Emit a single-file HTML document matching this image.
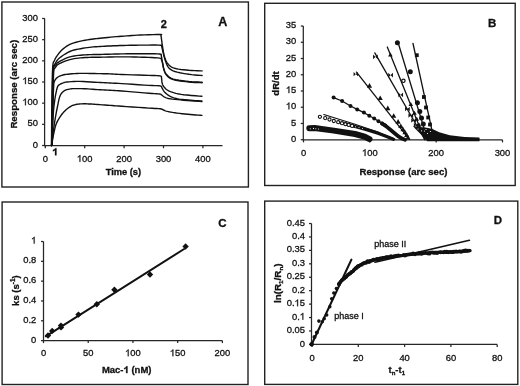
<!DOCTYPE html>
<html><head><meta charset="utf-8"><style>
html,body{margin:0;padding:0;background:#fff;}
svg{display:block;will-change:transform;font-family:"Liberation Sans",sans-serif;}
text{fill:#111;stroke:#111;stroke-width:0.3px;}
</style></head><body>
<svg width="520" height="386" viewBox="0 0 520 386" font-family="'Liberation Sans', sans-serif">
<rect width="520" height="386" fill="#fff"/>
<rect x="1.9" y="2" width="246.5" height="185" fill="none" stroke="#222" stroke-width="1.4"/>
<polyline points="44.6,18.3 44.6,145.7 222.5,145.7" fill="none" stroke="#262626" stroke-width="1.25"/>
<line x1="42.1" y1="145.5" x2="44.6" y2="145.5" stroke="#262626" stroke-width="1.25"/>
<line x1="42.1" y1="124.34" x2="44.6" y2="124.34" stroke="#262626" stroke-width="1.25"/>
<line x1="42.1" y1="103.17" x2="44.6" y2="103.17" stroke="#262626" stroke-width="1.25"/>
<line x1="42.1" y1="82" x2="44.6" y2="82" stroke="#262626" stroke-width="1.25"/>
<line x1="42.1" y1="60.84" x2="44.6" y2="60.84" stroke="#262626" stroke-width="1.25"/>
<line x1="42.1" y1="39.67" x2="44.6" y2="39.67" stroke="#262626" stroke-width="1.25"/>
<line x1="42.1" y1="18.51" x2="44.6" y2="18.51" stroke="#262626" stroke-width="1.25"/>
<line x1="45.3" y1="145.7" x2="45.3" y2="148.2" stroke="#262626" stroke-width="1.25"/>
<line x1="84.7" y1="145.7" x2="84.7" y2="148.2" stroke="#262626" stroke-width="1.25"/>
<line x1="124.1" y1="145.7" x2="124.1" y2="148.2" stroke="#262626" stroke-width="1.25"/>
<line x1="163.5" y1="145.7" x2="163.5" y2="148.2" stroke="#262626" stroke-width="1.25"/>
<line x1="202.9" y1="145.7" x2="202.9" y2="148.2" stroke="#262626" stroke-width="1.25"/>
<text x="38" y="147.6" font-size="9.4" text-anchor="end" >0</text>
<text x="38" y="126.44" font-size="9.4" text-anchor="end" >50</text>
<polygon points="25.81,105.27 25.81,98.54 25.26,98.54 24.85,99.07 24.1,99.72 23.26,100.15 23.26,100.95 23.91,100.62 24.57,100.15 25,99.82 25,105.27" fill="#111" stroke="#111" stroke-width="0.3" stroke-linejoin="round"/>
<text x="27.54" y="105.27" font-size="9.4" text-anchor="start" >00</text>
<polygon points="25.81,84.1 25.81,77.37 25.26,77.37 24.85,77.9 24.1,78.56 23.26,78.98 23.26,79.78 23.91,79.45 24.57,78.98 25,78.65 25,84.1" fill="#111" stroke="#111" stroke-width="0.3" stroke-linejoin="round"/>
<text x="27.54" y="84.1" font-size="9.4" text-anchor="start" >50</text>
<text x="38" y="62.94" font-size="9.4" text-anchor="end" >200</text>
<text x="38" y="41.77" font-size="9.4" text-anchor="end" >250</text>
<text x="38" y="20.61" font-size="9.4" text-anchor="end" >300</text>
<text x="45.3" y="161.8" font-size="9.4" text-anchor="middle" >0</text>
<polygon points="80.35,161.8 80.35,155.07 79.8,155.07 79.4,155.6 78.64,156.25 77.8,156.68 77.8,157.48 78.46,157.15 79.11,156.68 79.54,156.35 79.54,161.8" fill="#111" stroke="#111" stroke-width="0.3" stroke-linejoin="round"/>
<text x="82.09" y="161.8" font-size="9.4" text-anchor="start" >00</text>
<text x="124.1" y="161.8" font-size="9.4" text-anchor="middle" >200</text>
<text x="163.5" y="161.8" font-size="9.4" text-anchor="middle" >300</text>
<text x="202.9" y="161.8" font-size="9.4" text-anchor="middle" >400</text>
<text x="123.4" y="175.4" font-size="9.3" text-anchor="middle" font-weight="bold" >Time (s)</text>
<text x="0" y="0" font-size="9.7" text-anchor="middle" font-weight="bold" transform="translate(16.7 84.2) rotate(-90)">Response (arc sec)</text>
<text x="218.2" y="25.7" font-size="12.6" text-anchor="start" font-weight="bold" >A</text>
<text x="160.7" y="28" font-size="11" text-anchor="start" font-weight="bold" >2</text>
<polygon points="56.45,155.3 56.45,148.14 55.3,148.14 54.8,148.9 53.9,149.55 52.95,150 52.95,151.25 53.8,150.9 55,150.2 55,155.3" fill="#111" stroke="#111" stroke-width="0.3" stroke-linejoin="round"/>
<polyline points="51.5,145.5 51.55,139.11 51.61,129.98 51.69,119.48 51.79,109.03 51.9,100 52.02,92.18 52.14,84.63 52.29,77.69 52.47,71.7 52.7,67 52.99,63.97 53.33,62.38 53.7,61.66 54.1,61.23 54.5,60.5 54.86,59.55 55.2,58.76 55.57,58.04 56.05,57.25 56.7,56.3 57.54,55.13 58.52,53.81 59.62,52.43 60.82,51.07 62.1,49.8 63.44,48.62 64.87,47.46 66.39,46.36 68.02,45.33 69.8,44.4 71.76,43.58 73.89,42.86 76.12,42.22 78.38,41.64 80.6,41.1 82.81,40.61 85.07,40.19 87.31,39.82 89.47,39.49 91.5,39.2 93.27,38.96 94.83,38.79 96.36,38.65 98.02,38.5 100,38.3 102.38,38.05 105.04,37.76 107.87,37.46 110.73,37.16 113.5,36.9 116.18,36.67 118.86,36.47 121.54,36.27 124.22,36.09 126.9,35.9 129.5,35.71 132,35.51 134.56,35.33 137.31,35.15 140.4,35 144.21,34.85 148.66,34.7 153.14,34.58 157.09,34.5 159.9,34.5 161.29,34.53 161.65,34.58 161.41,34.71 161.02,34.96 160.9,35.4 161.06,36.08 161.2,36.95 161.33,37.95 161.46,38.99 161.6,40 161.73,40.92 161.84,41.8 161.96,42.73 162.1,43.8 162.3,45.1 162.55,46.73 162.84,48.63 163.16,50.64 163.51,52.62 163.9,54.4 164.3,55.98 164.73,57.48 165.19,58.88 165.71,60.18 166.3,61.4 166.95,62.52 167.64,63.55 168.4,64.48 169.25,65.33 170.2,66.1 171.19,66.77 172.21,67.34 173.36,67.83 174.72,68.28 176.4,68.7 178.49,69.1 180.91,69.46 183.55,69.78 186.25,70.06 188.9,70.3 191.71,70.49 194.76,70.64 197.74,70.75 200.29,70.83 202.1,70.9" fill="none" stroke="#111" stroke-width="1.4" stroke-linejoin="round" stroke-linecap="round" />
<polyline points="51.6,145.5 51.68,139.08 51.78,129.88 51.91,119.34 52.05,108.9 52.2,100 52.35,92.44 52.51,85.26 52.69,78.76 52.88,73.24 53.1,69 53.3,66.51 53.48,65.58 53.7,65.48 54.02,65.53 54.5,65 55.08,63.87 55.73,62.6 56.53,61.26 57.56,59.87 58.9,58.5 60.67,57.06 62.8,55.53 65.14,54.02 67.52,52.64 69.8,51.5 71.96,50.65 74.12,50.02 76.28,49.53 78.44,49.12 80.6,48.7 82.81,48.29 85.07,47.93 87.31,47.61 89.47,47.34 91.5,47.1 93.27,46.92 94.83,46.79 96.36,46.7 98.02,46.61 100,46.5 102.33,46.36 104.9,46.22 107.64,46.07 110.53,45.93 113.5,45.8 116.63,45.68 119.96,45.57 123.36,45.47 126.75,45.38 130,45.3 133.08,45.24 136.07,45.18 139.01,45.14 141.97,45.12 145,45.1 148.35,45.08 151.98,45.06 155.51,45.06 158.58,45.1 160.8,45.2 161.92,45.3 162.2,45.39 162.01,45.56 161.72,45.89 161.7,46.5 161.95,47.42 162.21,48.59 162.51,49.94 162.83,51.4 163.2,52.9 163.61,54.5 164.06,56.25 164.55,58.06 165.06,59.81 165.6,61.4 166.13,62.84 166.64,64.2 167.2,65.47 167.87,66.64 168.7,67.7 169.62,68.64 170.58,69.45 171.71,70.17 173.11,70.84 174.9,71.5 177.21,72.15 179.98,72.77 182.98,73.34 186.03,73.86 188.9,74.3 191.8,74.66 194.87,74.95 197.81,75.18 200.32,75.36 202.1,75.5" fill="none" stroke="#111" stroke-width="1.4" stroke-linejoin="round" stroke-linecap="round" />
<polyline points="51.7,145.5 51.82,139.06 52,129.83 52.2,119.27 52.41,108.84 52.6,100 52.75,92.6 52.86,85.66 52.99,79.42 53.16,74.12 53.4,70 53.72,67.46 54.08,66.33 54.5,66.02 54.98,65.94 55.5,65.5 55.98,64.73 56.41,64.02 56.94,63.33 57.72,62.6 58.9,61.8 60.6,60.85 62.72,59.77 65.09,58.69 67.51,57.69 69.8,56.9 71.96,56.34 74.12,55.94 76.28,55.65 78.44,55.42 80.6,55.2 82.81,55 85.07,54.86 87.31,54.75 89.47,54.67 91.5,54.6 93.25,54.55 94.76,54.54 96.25,54.54 97.92,54.54 100,54.5 102.58,54.42 105.53,54.31 108.69,54.2 111.9,54.09 115,54 118,53.94 121,53.89 124,53.85 127,53.82 130,53.8 133.01,53.78 136.02,53.78 139.03,53.78 142.03,53.78 145,53.8 148.15,53.8 151.49,53.78 154.71,53.78 157.51,53.84 159.6,54 160.78,54.22 161.24,54.47 161.28,54.81 161.2,55.3 161.3,56 161.55,56.95 161.76,58.12 161.95,59.43 162.16,60.82 162.4,62.2 162.66,63.63 162.93,65.16 163.23,66.72 163.58,68.22 164,69.6 164.47,70.85 164.98,72.01 165.56,73.1 166.26,74.13 167.1,75.1 167.99,76.02 168.91,76.88 169.99,77.69 171.41,78.43 173.3,79.1 175.86,79.71 178.98,80.26 182.38,80.74 185.78,81.15 188.9,81.5 191.9,81.76 194.99,81.94 197.89,82.05 200.34,82.13 202.1,82.2" fill="none" stroke="#111" stroke-width="1.4" stroke-linejoin="round" stroke-linecap="round" />
<polyline points="51.8,145.5 51.95,139.03 52.18,129.74 52.43,119.12 52.68,108.71 52.9,100 53.06,92.9 53.19,86.41 53.32,80.67 53.48,75.82 53.7,72 53.97,69.58 54.27,68.46 54.62,68.11 55.02,67.97 55.5,67.5 55.96,66.73 56.38,66.03 56.92,65.35 57.71,64.65 58.9,63.9 60.6,63.04 62.72,62.11 65.09,61.17 67.51,60.3 69.8,59.6 71.96,59.08 74.12,58.68 76.28,58.38 78.44,58.13 80.6,57.9 82.81,57.7 85.07,57.56 87.31,57.45 89.47,57.37 91.5,57.3 93.25,57.25 94.76,57.23 96.25,57.23 97.92,57.22 100,57.2 102.58,57.15 105.53,57.08 108.69,57.01 111.9,56.94 115,56.9 118,56.87 121,56.86 124,56.86 127,56.87 130,56.9 133.01,56.95 136.02,57.01 139.03,57.09 142.03,57.19 145,57.3 148.15,57.42 151.48,57.54 154.69,57.68 157.5,57.86 159.6,58.1 160.8,58.38 161.31,58.7 161.4,59.07 161.37,59.5 161.5,60 161.78,60.54 162.02,61.11 162.23,61.76 162.45,62.54 162.7,63.5 162.96,64.72 163.21,66.17 163.48,67.72 163.81,69.24 164.2,70.6 164.64,71.78 165.1,72.88 165.64,73.91 166.29,74.88 167.1,75.8 167.98,76.67 168.89,77.49 169.98,78.25 171.41,78.95 173.3,79.6 175.86,80.2 178.98,80.74 182.38,81.23 185.78,81.65 188.9,82 191.9,82.26 194.99,82.44 197.89,82.55 200.34,82.63 202.1,82.7" fill="none" stroke="#111" stroke-width="1.4" stroke-linejoin="round" stroke-linecap="round" />
<polyline points="51.8,145.5 51.99,138.78 52.26,128.97 52.58,117.97 52.87,107.68 53.1,100 53.25,95.36 53.35,92.51 53.43,90.77 53.51,89.49 53.6,88 53.68,86.36 53.72,85.01 53.78,83.86 53.92,82.82 54.2,81.8 54.62,80.8 55.15,79.88 55.76,79.05 56.45,78.29 57.2,77.6 58.01,77 58.9,76.49 59.84,76.04 60.85,75.65 61.9,75.3 62.92,75 63.92,74.76 65.01,74.56 66.3,74.38 67.9,74.2 69.81,74 71.95,73.81 74.32,73.63 76.94,73.49 79.8,73.4 83.09,73.37 86.8,73.4 90.66,73.46 94.38,73.54 97.7,73.6 100.52,73.65 103.04,73.7 105.38,73.75 107.66,73.82 110,73.9 112.17,74 114.07,74.1 116.08,74.22 118.57,74.36 121.9,74.5 126.57,74.67 132.33,74.86 138.44,75.05 144.18,75.24 148.8,75.4 152.22,75.5 154.92,75.55 157.04,75.6 158.72,75.7 160.1,75.9 161.03,76.19 161.41,76.54 161.47,76.96 161.43,77.47 161.5,78.1 161.66,78.9 161.76,79.86 161.84,80.89 161.94,81.9 162.1,82.8 162.29,83.55 162.48,84.22 162.71,84.86 163.04,85.5 163.5,86.2 164.09,86.98 164.78,87.82 165.57,88.66 166.48,89.47 167.5,90.2 168.64,90.84 169.89,91.42 171.26,91.95 172.73,92.44 174.3,92.9 175.87,93.32 177.45,93.69 179.18,94.04 181.22,94.37 183.7,94.7 187.07,95.06 191.22,95.43 195.51,95.78 199.28,96.09 201.9,96.3" fill="none" stroke="#111" stroke-width="1.4" stroke-linejoin="round" stroke-linecap="round" />
<polyline points="51.8,145.5 51.99,141.07 52.26,134.66 52.58,127.4 52.9,120.47 53.2,115 53.47,111.19 53.73,108.28 53.99,105.97 54.25,103.97 54.5,102 54.74,100.11 54.98,98.49 55.22,97.06 55.46,95.72 55.7,94.4 55.96,93.06 56.22,91.77 56.48,90.56 56.74,89.45 57,88.5 57.23,87.72 57.43,87.1 57.65,86.59 57.89,86.14 58.2,85.7 58.58,85.28 59.02,84.91 59.5,84.58 60,84.28 60.5,84 61,83.74 61.5,83.51 62.02,83.3 62.58,83.1 63.2,82.9 63.75,82.7 64.21,82.51 64.78,82.33 65.65,82.16 67,82 68.9,81.84 71.23,81.66 73.88,81.51 76.77,81.41 79.8,81.4 83.14,81.5 86.86,81.7 90.7,81.95 94.4,82.2 97.7,82.4 100.52,82.55 103.04,82.67 105.38,82.78 107.66,82.89 110,83 112.17,83.1 114.07,83.18 116.08,83.27 118.57,83.4 121.9,83.6 126.57,83.9 132.33,84.3 138.44,84.72 144.18,85.1 148.8,85.4 152.21,85.55 154.89,85.61 157,85.63 158.68,85.71 160.1,85.9 161.08,86.22 161.54,86.6 161.7,87.06 161.8,87.6 162.1,88.2 162.55,88.91 163,89.72 163.49,90.58 164.08,91.46 164.8,92.3 165.68,93.13 166.7,93.98 167.81,94.82 168.99,95.6 170.2,96.3 171.36,96.9 172.5,97.41 173.74,97.87 175.2,98.3 177,98.7 179.29,99.09 181.98,99.44 184.86,99.76 187.74,100.05 190.4,100.3 193.01,100.51 195.69,100.68 198.22,100.81 200.37,100.92 201.9,101" fill="none" stroke="#111" stroke-width="1.4" stroke-linejoin="round" stroke-linecap="round" />
<polyline points="51.9,145.5 52.11,143.35 52.41,140.3 52.75,136.76 53.13,133.19 53.5,130 53.87,127.21 54.27,124.52 54.67,121.94 55.09,119.43 55.5,117 55.91,114.66 56.31,112.42 56.73,110.25 57.15,108.12 57.6,106 58.05,103.81 58.48,101.58 58.95,99.4 59.48,97.41 60.1,95.7 60.81,94.31 61.59,93.16 62.45,92.22 63.38,91.41 64.4,90.7 65.55,90.11 66.82,89.68 68.16,89.36 69.47,89.11 70.7,88.9 71.75,88.74 72.68,88.65 73.6,88.61 74.67,88.6 76,88.6 77.64,88.6 79.5,88.62 81.51,88.65 83.63,88.71 85.8,88.8 88.04,88.92 90.39,89.08 92.81,89.26 95.26,89.44 97.7,89.6 100.14,89.75 102.61,89.89 105.09,90.02 107.56,90.16 110,90.3 112.17,90.42 114.07,90.51 116.08,90.61 118.57,90.76 121.9,91 126.58,91.37 132.36,91.84 138.49,92.35 144.22,92.83 148.8,93.2 152.1,93.45 154.62,93.62 156.55,93.74 158.08,93.86 159.4,94 160.34,94.15 160.79,94.29 160.98,94.43 161.14,94.63 161.5,94.9 162.05,95.28 162.63,95.75 163.27,96.26 163.99,96.76 164.8,97.2 165.62,97.57 166.42,97.9 167.36,98.21 168.57,98.5 170.2,98.8 172.31,99.09 174.79,99.37 177.57,99.65 180.57,99.92 183.7,100.2 187.33,100.5 191.52,100.83 195.7,101.14 199.35,101.41 201.9,101.6" fill="none" stroke="#111" stroke-width="1.4" stroke-linejoin="round" stroke-linecap="round" />
<polyline points="51.3,145.5 51.6,144.03 52.01,141.96 52.5,139.54 53.01,137.07 53.5,134.8 53.94,132.71 54.38,130.62 54.83,128.58 55.33,126.62 55.9,124.8 56.55,123.13 57.27,121.6 58.03,120.15 58.85,118.76 59.7,117.4 60.59,116.06 61.52,114.77 62.49,113.53 63.52,112.34 64.6,111.2 65.76,110.09 66.99,109.01 68.26,107.99 69.54,107.07 70.8,106.3 72.04,105.69 73.28,105.22 74.51,104.85 75.75,104.56 77,104.3 78.25,104.09 79.49,103.96 80.75,103.88 82.01,103.83 83.3,103.8 84.6,103.79 85.9,103.82 87.23,103.86 88.59,103.93 90,104 91.4,104.07 92.79,104.16 94.24,104.26 95.85,104.37 97.7,104.5 99.87,104.65 102.31,104.83 104.89,105.02 107.49,105.21 110,105.4 112.17,105.57 114.07,105.72 116.08,105.88 118.57,106.06 121.9,106.3 126.57,106.62 132.33,107.01 138.44,107.42 144.18,107.8 148.8,108.1 152.18,108.3 154.82,108.44 156.9,108.54 158.6,108.65 160.1,108.8 161.28,109 162,109.23 162.48,109.48 162.91,109.74 163.5,110 164.17,110.26 164.79,110.53 165.48,110.81 166.34,111.1 167.5,111.4 168.99,111.73 170.72,112.07 172.66,112.43 174.76,112.77 177,113.1 179.46,113.41 182.17,113.71 184.99,113.99 187.78,114.26 190.4,114.5 193.01,114.73 195.69,114.94 198.22,115.13 200.37,115.29 201.9,115.4" fill="none" stroke="#111" stroke-width="1.4" stroke-linejoin="round" stroke-linecap="round" />
<rect x="264.7" y="3.3" width="250.5" height="182.2" fill="none" stroke="#222" stroke-width="1.4"/>
<polyline points="303.3,26 303.3,139.9 502.6,139.9" fill="none" stroke="#262626" stroke-width="1.25"/>
<line x1="300.8" y1="139.7" x2="303.3" y2="139.7" stroke="#262626" stroke-width="1.25"/>
<line x1="300.8" y1="123.46" x2="303.3" y2="123.46" stroke="#262626" stroke-width="1.25"/>
<line x1="300.8" y1="107.23" x2="303.3" y2="107.23" stroke="#262626" stroke-width="1.25"/>
<line x1="300.8" y1="90.99" x2="303.3" y2="90.99" stroke="#262626" stroke-width="1.25"/>
<line x1="300.8" y1="74.76" x2="303.3" y2="74.76" stroke="#262626" stroke-width="1.25"/>
<line x1="300.8" y1="58.52" x2="303.3" y2="58.52" stroke="#262626" stroke-width="1.25"/>
<line x1="300.8" y1="42.29" x2="303.3" y2="42.29" stroke="#262626" stroke-width="1.25"/>
<line x1="300.8" y1="26.05" x2="303.3" y2="26.05" stroke="#262626" stroke-width="1.25"/>
<line x1="303.5" y1="139.9" x2="303.5" y2="142.4" stroke="#262626" stroke-width="1.25"/>
<line x1="369.83" y1="139.9" x2="369.83" y2="142.4" stroke="#262626" stroke-width="1.25"/>
<line x1="436.16" y1="139.9" x2="436.16" y2="142.4" stroke="#262626" stroke-width="1.25"/>
<line x1="502.49" y1="139.9" x2="502.49" y2="142.4" stroke="#262626" stroke-width="1.25"/>
<text x="296.3" y="141.8" font-size="9.4" text-anchor="end" >0</text>
<text x="296.3" y="125.56" font-size="9.4" text-anchor="end" >5</text>
<polygon points="289.34,109.33 289.34,102.6 288.79,102.6 288.38,103.13 287.63,103.78 286.78,104.21 286.78,105.01 287.44,104.68 288.1,104.21 288.52,103.88 288.52,109.33" fill="#111" stroke="#111" stroke-width="0.3" stroke-linejoin="round"/>
<text x="291.07" y="109.33" font-size="9.4" text-anchor="start" >0</text>
<polygon points="289.34,93.09 289.34,86.36 288.79,86.36 288.38,86.89 287.63,87.55 286.78,87.97 286.78,88.77 287.44,88.44 288.1,87.97 288.52,87.64 288.52,93.09" fill="#111" stroke="#111" stroke-width="0.3" stroke-linejoin="round"/>
<text x="291.07" y="93.09" font-size="9.4" text-anchor="start" >5</text>
<text x="296.3" y="76.86" font-size="9.4" text-anchor="end" >20</text>
<text x="296.3" y="60.62" font-size="9.4" text-anchor="end" >25</text>
<text x="296.3" y="44.39" font-size="9.4" text-anchor="end" >30</text>
<text x="296.3" y="28.15" font-size="9.4" text-anchor="end" >35</text>
<text x="303.5" y="155.9" font-size="9.4" text-anchor="middle" >0</text>
<polygon points="365.48,155.9 365.48,149.17 364.93,149.17 364.53,149.7 363.77,150.35 362.93,150.78 362.93,151.58 363.59,151.25 364.24,150.78 364.67,150.45 364.67,155.9" fill="#111" stroke="#111" stroke-width="0.3" stroke-linejoin="round"/>
<text x="367.22" y="155.9" font-size="9.4" text-anchor="start" >00</text>
<text x="436.16" y="155.9" font-size="9.4" text-anchor="middle" >200</text>
<text x="502.49" y="155.9" font-size="9.4" text-anchor="middle" >300</text>
<text x="403.5" y="175.2" font-size="9.6" text-anchor="middle" font-weight="bold" >Response (arc sec)</text>
<text x="0" y="0" font-size="9.5" text-anchor="middle" font-weight="bold" transform="translate(278.9 83.5) rotate(-90)">dR/dt</text>
<text x="488" y="27.1" font-size="11.5" text-anchor="start" font-weight="bold" >B</text>
<polyline points="309.3,128.2 314.6,128 333.8,130.6 355,134 364.6,136.6 369.5,139.2" fill="none" stroke="#111" stroke-width="6.0" stroke-linejoin="round" stroke-linecap="round" />
<circle cx="310.3" cy="128.7" r="0.55" fill="#fff" stroke="none" stroke-width="0"/>
<circle cx="313.5" cy="128.4" r="0.55" fill="#fff" stroke="none" stroke-width="0"/>
<circle cx="315.8" cy="128.7" r="0.55" fill="#fff" stroke="none" stroke-width="0"/>
<circle cx="318.4" cy="129" r="0.55" fill="#fff" stroke="none" stroke-width="0"/>
<polyline points="323.8,114.5 355,124.3 375,131 395,139.3" fill="none" stroke="#111" stroke-width="1.2" stroke-linejoin="round" stroke-linecap="round" />
<circle cx="319.9" cy="116.8" r="1.6" fill="#fff" stroke="#111" stroke-width="1.1"/>
<polyline points="345,123.8 355,126.5 365,129.2 378.7,133.4 387.3,136.8 393.4,139.3" fill="none" stroke="#111" stroke-width="3.2" stroke-linejoin="round" stroke-linecap="round" />
<circle cx="325.2" cy="118.1" r="1.6" fill="#fff" stroke="#111" stroke-width="1.1"/>
<circle cx="329.5" cy="119.5" r="1.6" fill="#fff" stroke="#111" stroke-width="1.1"/>
<circle cx="333.8" cy="121" r="1.6" fill="#fff" stroke="#111" stroke-width="1.1"/>
<circle cx="338.2" cy="122.2" r="1.6" fill="#fff" stroke="#111" stroke-width="1.1"/>
<circle cx="342" cy="123.2" r="1.6" fill="#fff" stroke="#111" stroke-width="1.1"/>
<circle cx="345.4" cy="124.2" r="1.6" fill="#fff" stroke="#111" stroke-width="1.1"/>
<circle cx="348.7" cy="124.9" r="1.6" fill="#fff" stroke="#111" stroke-width="1.1"/>
<circle cx="352.1" cy="125.9" r="1.6" fill="#fff" stroke="#111" stroke-width="1.1"/>
<circle cx="355.5" cy="126.7" r="0.5" fill="#fff" stroke="none" stroke-width="0"/>
<circle cx="359" cy="127.6" r="0.5" fill="#fff" stroke="none" stroke-width="0"/>
<circle cx="362.5" cy="128.6" r="0.5" fill="#fff" stroke="none" stroke-width="0"/>
<polyline points="333.6,97.6 342.1,101 350.5,106 357.2,109.4 363.9,112.6 369.3,115.7 374.2,118.5 378.5,121.2 382.1,123.6 385.1,125.4 391.6,130.8 398.5,136.4 402,138.6 405,139.8" fill="none" stroke="#111" stroke-width="1.3" stroke-linejoin="round" stroke-linecap="round" />
<circle cx="333.6" cy="97.6" r="2" fill="#111" stroke="none" stroke-width="0"/>
<circle cx="342.1" cy="101" r="2" fill="#111" stroke="none" stroke-width="0"/>
<circle cx="350.5" cy="106" r="2" fill="#111" stroke="none" stroke-width="0"/>
<circle cx="357.2" cy="109.4" r="2" fill="#111" stroke="none" stroke-width="0"/>
<circle cx="363.9" cy="112.6" r="2" fill="#111" stroke="none" stroke-width="0"/>
<circle cx="369.3" cy="115.7" r="2" fill="#111" stroke="none" stroke-width="0"/>
<circle cx="374.2" cy="118.5" r="2" fill="#111" stroke="none" stroke-width="0"/>
<circle cx="378.5" cy="121.2" r="2" fill="#111" stroke="none" stroke-width="0"/>
<circle cx="382.1" cy="123.6" r="2" fill="#111" stroke="none" stroke-width="0"/>
<circle cx="385.1" cy="125.4" r="2" fill="#111" stroke="none" stroke-width="0"/>
<polyline points="382.1,123.6 385.1,125.4 391.6,130.8 398.5,136.4 402,138.6 405,139.8" fill="none" stroke="#111" stroke-width="3.8" stroke-linejoin="round" stroke-linecap="round" />
<polyline points="356.5,72.1 409.3,139.4" fill="none" stroke="#111" stroke-width="1.3" stroke-linejoin="round" stroke-linecap="round" />
<polygon points="353.6,71.9 358,76.3 358,71.9 353.6,76.3" fill="#111"/>
<polygon points="369.5,83.12 372.08,87.64 366.92,87.64" fill="#111"/>
<polygon points="380.2,95.42 382.78,99.94 377.62,99.94" fill="#111"/>
<polygon points="387.8,105.62 390.38,110.14 385.22,110.14" fill="#111"/>
<polygon points="393.7,113.22 396.28,117.73 391.12,117.73" fill="#111"/>
<polygon points="398.1,119.12 400.68,123.64 395.52,123.64" fill="#111"/>
<polygon points="400.8,123.52 403.38,128.03 398.22,128.03" fill="#111"/>
<polygon points="403,126.72 405.58,131.24 400.42,131.24" fill="#111"/>
<polygon points="405,129.72 407.58,134.24 402.42,134.24" fill="#111"/>
<polygon points="406.7,132.42 409.28,136.94 404.12,136.94" fill="#111"/>
<polygon points="408,134.92 410.58,139.44 405.42,139.44" fill="#111"/>
<polyline points="374.8,52.9 424.9,139.7" fill="none" stroke="#111" stroke-width="1.3" stroke-linejoin="round" stroke-linecap="round" />
<polygon points="373.05,54.55 377.75,59.25 377.75,54.55 373.05,59.25" fill="#111"/>
<polygon points="388.25,72.75 392.95,77.45 392.95,72.75 388.25,77.45" fill="#111"/>
<polygon points="398.35,92.55 403.05,97.25 403.05,92.55 398.35,97.25" fill="#111"/>
<polygon points="405.05,106.65 409.75,111.35 409.75,106.65 405.05,111.35" fill="#111"/>
<polygon points="408.45,113.15 413.15,117.85 413.15,113.15 408.45,117.85" fill="#111"/>
<polygon points="411.25,118.15 415.95,122.85 415.95,118.15 411.25,122.85" fill="#111"/>
<polygon points="413.85,122.65 418.55,127.35 418.55,122.65 413.85,127.35" fill="#111"/>
<polyline points="387.3,47 424.8,139.7" fill="none" stroke="#111" stroke-width="1.3" stroke-linejoin="round" stroke-linecap="round" />
<polygon points="390.4,52.52 392.68,56.51 388.12,56.51" fill="#111"/>
<polygon points="410.8,102.02 413.08,106.01 408.52,106.01" fill="#111"/>
<polygon points="414.5,110.72 416.78,114.71 412.22,114.71" fill="#111"/>
<polygon points="416.8,116.72 419.08,120.71 414.52,120.71" fill="#111"/>
<polygon points="419.2,122.72 421.48,126.71 416.92,126.71" fill="#111"/>
<circle cx="403.4" cy="80.8" r="1.7" fill="#fff" stroke="#111" stroke-width="1.2"/>
<polyline points="398.6,44.3 427.5,139.7" fill="none" stroke="#111" stroke-width="1.3" stroke-linejoin="round" stroke-linecap="round" />
<circle cx="397.4" cy="42.8" r="2.5" fill="#111" stroke="none" stroke-width="0"/>
<circle cx="410.3" cy="71.7" r="2.5" fill="#111" stroke="none" stroke-width="0"/>
<circle cx="417.4" cy="102.8" r="2.5" fill="#111" stroke="none" stroke-width="0"/>
<circle cx="419.8" cy="111.5" r="2.5" fill="#111" stroke="none" stroke-width="0"/>
<circle cx="421.5" cy="118" r="2.5" fill="#111" stroke="none" stroke-width="0"/>
<circle cx="423.3" cy="124" r="2.5" fill="#111" stroke="none" stroke-width="0"/>
<polyline points="413,43.5 434,139.7" fill="none" stroke="#111" stroke-width="1.3" stroke-linejoin="round" stroke-linecap="round" />
<rect x="414.9" y="53.3" width="3.8" height="3.8" fill="#111"/>
<rect x="422" y="95.1" width="3.8" height="3.8" fill="#111"/>
<rect x="424.1" y="105.6" width="3.8" height="3.8" fill="#111"/>
<rect x="426.3" y="115.6" width="3.8" height="3.8" fill="#111"/>
<rect x="428.1" y="122.6" width="3.8" height="3.8" fill="#111"/>
<polygon points="413,126 416.5,126.5 420,127 425,127.5 429.5,128.3 433,129.3 439.2,132.3 449.8,135.3 464.6,136.9 479.4,137.6 479.7,139.4 479.4,141.2 427,141.2 424.5,138 419,132.5 415,128.5" fill="#111"/>
<circle cx="418" cy="129" r="0.6" fill="#fff" stroke="none" stroke-width="0"/>
<circle cx="421.5" cy="130.8" r="0.6" fill="#fff" stroke="none" stroke-width="0"/>
<circle cx="424.5" cy="131" r="0.6" fill="#fff" stroke="none" stroke-width="0"/>
<circle cx="427.5" cy="133.5" r="0.6" fill="#fff" stroke="none" stroke-width="0"/>
<circle cx="426" cy="129.5" r="0.6" fill="#fff" stroke="none" stroke-width="0"/>
<circle cx="430.5" cy="131.5" r="0.6" fill="#fff" stroke="none" stroke-width="0"/>
<rect x="2.1" y="202" width="245.9" height="182.5" fill="none" stroke="#222" stroke-width="1.4"/>
<polyline points="43.5,241.5 43.5,340.6 222.4,340.6" fill="none" stroke="#262626" stroke-width="1.25"/>
<line x1="41" y1="340.6" x2="43.5" y2="340.6" stroke="#262626" stroke-width="1.25"/>
<line x1="41" y1="320.78" x2="43.5" y2="320.78" stroke="#262626" stroke-width="1.25"/>
<line x1="41" y1="300.96" x2="43.5" y2="300.96" stroke="#262626" stroke-width="1.25"/>
<line x1="41" y1="281.14" x2="43.5" y2="281.14" stroke="#262626" stroke-width="1.25"/>
<line x1="41" y1="261.32" x2="43.5" y2="261.32" stroke="#262626" stroke-width="1.25"/>
<line x1="41" y1="241.5" x2="43.5" y2="241.5" stroke="#262626" stroke-width="1.25"/>
<line x1="43.5" y1="340.6" x2="43.5" y2="343.1" stroke="#262626" stroke-width="1.25"/>
<line x1="88.22" y1="340.6" x2="88.22" y2="343.1" stroke="#262626" stroke-width="1.25"/>
<line x1="132.95" y1="340.6" x2="132.95" y2="343.1" stroke="#262626" stroke-width="1.25"/>
<line x1="177.67" y1="340.6" x2="177.67" y2="343.1" stroke="#262626" stroke-width="1.25"/>
<line x1="222.4" y1="340.6" x2="222.4" y2="343.1" stroke="#262626" stroke-width="1.25"/>
<text x="36.3" y="342.7" font-size="9.4" text-anchor="end" >0</text>
<text x="36.3" y="322.88" font-size="9.4" text-anchor="end" >0.2</text>
<text x="36.3" y="303.06" font-size="9.4" text-anchor="end" >0.4</text>
<text x="36.3" y="283.24" font-size="9.4" text-anchor="end" >0.6</text>
<text x="36.3" y="263.42" font-size="9.4" text-anchor="end" >0.8</text>
<polygon points="34.57,243.6 34.57,236.87 34.01,236.87 33.61,237.4 32.86,238.05 32.01,238.48 32.01,239.28 32.67,238.95 33.33,238.48 33.75,238.15 33.75,243.6" fill="#111" stroke="#111" stroke-width="0.3" stroke-linejoin="round"/>
<text x="43.5" y="356.2" font-size="9.4" text-anchor="middle" >0</text>
<text x="88.22" y="356.2" font-size="9.4" text-anchor="middle" >50</text>
<polygon points="128.6,356.2 128.6,349.47 128.05,349.47 127.65,350 126.89,350.65 126.05,351.08 126.05,351.88 126.71,351.55 127.36,351.08 127.79,350.75 127.79,356.2" fill="#111" stroke="#111" stroke-width="0.3" stroke-linejoin="round"/>
<text x="130.34" y="356.2" font-size="9.4" text-anchor="start" >00</text>
<polygon points="173.33,356.2 173.33,349.47 172.78,349.47 172.37,350 171.62,350.65 170.77,351.08 170.77,351.88 171.43,351.55 172.09,351.08 172.51,350.75 172.51,356.2" fill="#111" stroke="#111" stroke-width="0.3" stroke-linejoin="round"/>
<text x="175.06" y="356.2" font-size="9.4" text-anchor="start" >50</text>
<text x="222.4" y="356.2" font-size="9.4" text-anchor="middle" >200</text>
<text x="101.89" y="373.1" font-size="9.5" text-anchor="start" font-weight="bold" >Mac-</text>
<polygon points="127.48,373.1 127.48,366.3 126.39,366.3 125.91,367.02 125.06,367.64 124.16,368.06 124.16,369.25 124.96,368.92 126.1,368.25 126.1,373.1" fill="#111" stroke="#111" stroke-width="0.3" stroke-linejoin="round"/>
<text x="128.82" y="373.1" font-size="9.5" text-anchor="start" font-weight="bold" >&#160;(nM)</text>
<text x="0" y="0" font-size="9.5" text-anchor="middle" font-weight="bold" transform="translate(19 290.6) rotate(-90)">ks (s<tspan font-size="6.5" dy="-4.3">-1</tspan><tspan dy="4.3">)</tspan></text>
<text x="218.3" y="226.8" font-size="11.5" text-anchor="start" font-weight="bold" >C</text>
<polyline points="45.8,336.3 184.1,249" fill="none" stroke="#111" stroke-width="2.0" stroke-linejoin="round" stroke-linecap="round" />
<polygon points="48,332.3 51.2,335.5 48,338.7 44.8,335.5" fill="#111"/>
<polygon points="52.2,327.7 55.4,330.9 52.2,334.1 49,330.9" fill="#111"/>
<polygon points="61,324.2 64.2,327.4 61,330.6 57.8,327.4" fill="#111"/>
<polygon points="61,322.4 64.2,325.6 61,328.8 57.8,325.6" fill="#111"/>
<polygon points="78.5,311.4 81.7,314.6 78.5,317.8 75.3,314.6" fill="#111"/>
<polygon points="96.8,301 100,304.2 96.8,307.4 93.6,304.2" fill="#111"/>
<polygon points="114.4,286.6 117.6,289.8 114.4,293 111.2,289.8" fill="#111"/>
<polygon points="150,271.3 153.2,274.5 150,277.7 146.8,274.5" fill="#111"/>
<polygon points="185.6,243.3 188.8,246.5 185.6,249.7 182.4,246.5" fill="#111"/>
<rect x="264.7" y="201.1" width="253.1" height="183.3" fill="none" stroke="#222" stroke-width="1.4"/>
<polyline points="311.5,223.5 311.5,344.4 497.2,344.4" fill="none" stroke="#262626" stroke-width="1.25"/>
<line x1="309" y1="344.4" x2="311.5" y2="344.4" stroke="#262626" stroke-width="1.25"/>
<line x1="309" y1="330.97" x2="311.5" y2="330.97" stroke="#262626" stroke-width="1.25"/>
<line x1="309" y1="317.54" x2="311.5" y2="317.54" stroke="#262626" stroke-width="1.25"/>
<line x1="309" y1="304.11" x2="311.5" y2="304.11" stroke="#262626" stroke-width="1.25"/>
<line x1="309" y1="290.68" x2="311.5" y2="290.68" stroke="#262626" stroke-width="1.25"/>
<line x1="309" y1="277.25" x2="311.5" y2="277.25" stroke="#262626" stroke-width="1.25"/>
<line x1="309" y1="263.82" x2="311.5" y2="263.82" stroke="#262626" stroke-width="1.25"/>
<line x1="309" y1="250.39" x2="311.5" y2="250.39" stroke="#262626" stroke-width="1.25"/>
<line x1="309" y1="236.96" x2="311.5" y2="236.96" stroke="#262626" stroke-width="1.25"/>
<line x1="309" y1="223.53" x2="311.5" y2="223.53" stroke="#262626" stroke-width="1.25"/>
<line x1="312" y1="344.4" x2="312" y2="346.9" stroke="#262626" stroke-width="1.25"/>
<line x1="358.3" y1="344.4" x2="358.3" y2="346.9" stroke="#262626" stroke-width="1.25"/>
<line x1="404.6" y1="344.4" x2="404.6" y2="346.9" stroke="#262626" stroke-width="1.25"/>
<line x1="450.9" y1="344.4" x2="450.9" y2="346.9" stroke="#262626" stroke-width="1.25"/>
<line x1="497.2" y1="344.4" x2="497.2" y2="346.9" stroke="#262626" stroke-width="1.25"/>
<text x="305" y="346.5" font-size="9.4" text-anchor="end" >0</text>
<text x="305" y="333.07" font-size="9.4" text-anchor="end" >0.05</text>
<text x="291.93" y="319.64" font-size="9.4" text-anchor="start" >0.</text>
<polygon points="303.27,319.64 303.27,312.91 302.71,312.91 302.31,313.44 301.56,314.09 300.71,314.52 300.71,315.32 301.37,314.99 302.03,314.52 302.45,314.19 302.45,319.64" fill="#111" stroke="#111" stroke-width="0.3" stroke-linejoin="round"/>
<text x="286.7" y="306.21" font-size="9.4" text-anchor="start" >0.</text>
<polygon points="298.04,306.21 298.04,299.48 297.49,299.48 297.08,300.01 296.33,300.66 295.48,301.09 295.48,301.89 296.14,301.56 296.8,301.09 297.22,300.76 297.22,306.21" fill="#111" stroke="#111" stroke-width="0.3" stroke-linejoin="round"/>
<text x="299.77" y="306.21" font-size="9.4" text-anchor="start" >5</text>
<text x="305" y="292.78" font-size="9.4" text-anchor="end" >0.2</text>
<text x="305" y="279.35" font-size="9.4" text-anchor="end" >0.25</text>
<text x="305" y="265.92" font-size="9.4" text-anchor="end" >0.3</text>
<text x="305" y="252.49" font-size="9.4" text-anchor="end" >0.35</text>
<text x="305" y="239.06" font-size="9.4" text-anchor="end" >0.4</text>
<text x="305" y="225.63" font-size="9.4" text-anchor="end" >0.45</text>
<text x="312" y="360.7" font-size="9.4" text-anchor="middle" >0</text>
<text x="358.3" y="360.7" font-size="9.4" text-anchor="middle" >20</text>
<text x="404.6" y="360.7" font-size="9.4" text-anchor="middle" >40</text>
<text x="450.9" y="360.7" font-size="9.4" text-anchor="middle" >60</text>
<text x="497.2" y="360.7" font-size="9.4" text-anchor="middle" >80</text>
<text x="0" y="0" font-size="9.9" text-anchor="middle" font-weight="bold" transform="translate(280.5 283.3) rotate(-90)">ln(R<tspan font-size="6.2" dy="2">1</tspan><tspan dy="-2">/R</tspan><tspan font-size="6.2" dy="2">n</tspan><tspan dy="-2">)</tspan></text>
<text x="388.5" y="372.5" font-size="9.5" text-anchor="start" font-weight="bold" >t<tspan font-size="6" dy="2">n</tspan><tspan dy="-2">-t</tspan><tspan font-size="6" dy="2">1</tspan></text>
<text x="493.7" y="224" font-size="11.5" text-anchor="start" font-weight="bold" >D</text>
<text x="334.2" y="318.8" font-size="9" text-anchor="start" >phase I</text>
<text x="374.2" y="246.9" font-size="9" text-anchor="start" >phase II</text>
<polyline points="311.7,344.2 351.4,259.6" fill="none" stroke="#111" stroke-width="2.1" stroke-linejoin="round" stroke-linecap="round" />
<polyline points="375,262.3 469.4,240.3" fill="none" stroke="#111" stroke-width="1.6" stroke-linejoin="round" stroke-linecap="round" />
<circle cx="311.7" cy="344.2" r="2.3" fill="#111" stroke="none" stroke-width="0"/>
<circle cx="314.5" cy="337.1" r="2" fill="#111" stroke="none" stroke-width="0"/>
<circle cx="316.9" cy="332.6" r="2" fill="#111" stroke="none" stroke-width="0"/>
<circle cx="322.3" cy="321.8" r="1.75" fill="#111" stroke="none" stroke-width="0"/>
<circle cx="324.2" cy="318.7" r="1.75" fill="#111" stroke="none" stroke-width="0"/>
<circle cx="326.7" cy="314.9" r="1.75" fill="#111" stroke="none" stroke-width="0"/>
<circle cx="329.8" cy="306.8" r="1.75" fill="#111" stroke="none" stroke-width="0"/>
<circle cx="331.7" cy="298.8" r="1.75" fill="#111" stroke="none" stroke-width="0"/>
<circle cx="333.8" cy="293.1" r="1.75" fill="#111" stroke="none" stroke-width="0"/>
<circle cx="336.4" cy="288.4" r="1.75" fill="#111" stroke="none" stroke-width="0"/>
<circle cx="339" cy="284.3" r="1.75" fill="#111" stroke="none" stroke-width="0"/>
<circle cx="341.5" cy="280.7" r="1.75" fill="#111" stroke="none" stroke-width="0"/>
<circle cx="318.9" cy="321.1" r="1.8" fill="#111" stroke="none" stroke-width="0"/>
<polyline points="339,284.3 339.42,283.64 340.02,282.7 340.73,281.66 341.5,280.7 342.34,279.87 343.28,279.07 344.25,278.28 345.2,277.5 346.1,276.72 346.97,275.94 347.87,275.17 348.8,274.4 349.84,273.61 350.94,272.81 352,272.03 352.9,271.3 353.48,270.67 353.84,270.11 354.26,269.52 355,268.8 356.19,267.88 357.68,266.81 359.27,265.74 360.8,264.8 362.23,264.01 363.65,263.3 365.07,262.67 366.5,262.1 367.94,261.62 369.39,261.23 370.85,260.87 372.3,260.5 373.75,260.11 375.21,259.72 376.66,259.34 378.1,259 379.53,258.69 380.95,258.41 382.37,258.14 383.8,257.9 385.24,257.68 386.69,257.49 388.15,257.31 389.6,257.1 391.05,256.85 392.51,256.58 393.96,256.32 395.4,256.1 396.83,255.95 398.25,255.84 399.67,255.73 401.1,255.6 402.49,255.43 403.85,255.23 405.29,255.02 406.9,254.8 408.78,254.55 410.84,254.28 412.96,254.02 415,253.8 416.8,253.65 418.48,253.54 420.29,253.43 422.5,253.3 425.27,253.11 428.44,252.89 431.76,252.67 435,252.5 438.12,252.4 441.25,252.34 444.38,252.29 447.5,252.2 450.68,252.06 453.91,251.89 457.05,251.7 460,251.5 462.91,251.27 465.78,251.01 468.26,250.77 470,250.6" fill="none" stroke="#111" stroke-width="3.4" stroke-linejoin="round" stroke-linecap="round" />
<circle cx="338.89" cy="283.88" r="1.93" fill="#111" stroke="none" stroke-width="0"/>
<circle cx="339.6" cy="282.99" r="1.78" fill="#111" stroke="none" stroke-width="0"/>
<circle cx="340.49" cy="281.63" r="1.62" fill="#111" stroke="none" stroke-width="0"/>
<circle cx="341.75" cy="279.89" r="1.65" fill="#111" stroke="none" stroke-width="0"/>
<circle cx="342.93" cy="279.72" r="1.66" fill="#111" stroke="none" stroke-width="0"/>
<circle cx="344.05" cy="278.47" r="2.07" fill="#111" stroke="none" stroke-width="0"/>
<circle cx="345.49" cy="277.17" r="2.09" fill="#111" stroke="none" stroke-width="0"/>
<circle cx="346.37" cy="276.67" r="1.74" fill="#111" stroke="none" stroke-width="0"/>
<circle cx="347.64" cy="274.73" r="1.75" fill="#111" stroke="none" stroke-width="0"/>
<circle cx="349.28" cy="273.8" r="1.89" fill="#111" stroke="none" stroke-width="0"/>
<circle cx="350.46" cy="273.07" r="1.87" fill="#111" stroke="none" stroke-width="0"/>
<circle cx="351.41" cy="271.75" r="1.7" fill="#111" stroke="none" stroke-width="0"/>
<circle cx="353.02" cy="271.19" r="1.76" fill="#111" stroke="none" stroke-width="0"/>
<circle cx="353.95" cy="269.97" r="1.75" fill="#111" stroke="none" stroke-width="0"/>
<circle cx="355.14" cy="269.08" r="1.72" fill="#111" stroke="none" stroke-width="0"/>
<circle cx="356.27" cy="267.88" r="2.04" fill="#111" stroke="none" stroke-width="0"/>
<circle cx="357.66" cy="266.67" r="2.09" fill="#111" stroke="none" stroke-width="0"/>
<circle cx="358.62" cy="265.93" r="1.98" fill="#111" stroke="none" stroke-width="0"/>
<circle cx="359.99" cy="265.16" r="1.62" fill="#111" stroke="none" stroke-width="0"/>
<circle cx="361.68" cy="264.68" r="1.89" fill="#111" stroke="none" stroke-width="0"/>
<circle cx="363.23" cy="263.4" r="1.95" fill="#111" stroke="none" stroke-width="0"/>
<circle cx="364.51" cy="263.04" r="1.83" fill="#111" stroke="none" stroke-width="0"/>
<circle cx="366.13" cy="262.86" r="1.84" fill="#111" stroke="none" stroke-width="0"/>
<circle cx="367.53" cy="261.26" r="1.95" fill="#111" stroke="none" stroke-width="0"/>
<circle cx="369.05" cy="261.93" r="2.01" fill="#111" stroke="none" stroke-width="0"/>
<circle cx="370.39" cy="260.81" r="1.93" fill="#111" stroke="none" stroke-width="0"/>
<circle cx="371.78" cy="260.51" r="1.68" fill="#111" stroke="none" stroke-width="0"/>
<circle cx="373.38" cy="259.62" r="1.98" fill="#111" stroke="none" stroke-width="0"/>
<circle cx="374.94" cy="259.43" r="1.8" fill="#111" stroke="none" stroke-width="0"/>
<circle cx="376.93" cy="258.83" r="1.82" fill="#111" stroke="none" stroke-width="0"/>
<circle cx="378.3" cy="259.42" r="2.01" fill="#111" stroke="none" stroke-width="0"/>
<circle cx="380.05" cy="258.36" r="1.81" fill="#111" stroke="none" stroke-width="0"/>
<circle cx="381.32" cy="258.78" r="2.08" fill="#111" stroke="none" stroke-width="0"/>
<circle cx="382.77" cy="257.65" r="1.72" fill="#111" stroke="none" stroke-width="0"/>
<circle cx="384.4" cy="257.77" r="1.89" fill="#111" stroke="none" stroke-width="0"/>
<circle cx="386" cy="256.97" r="1.81" fill="#111" stroke="none" stroke-width="0"/>
<circle cx="387.65" cy="257.44" r="2.08" fill="#111" stroke="none" stroke-width="0"/>
<circle cx="389.43" cy="257.16" r="1.91" fill="#111" stroke="none" stroke-width="0"/>
<circle cx="391" cy="256.34" r="2.05" fill="#111" stroke="none" stroke-width="0"/>
<circle cx="392.63" cy="257.04" r="2" fill="#111" stroke="none" stroke-width="0"/>
<circle cx="393.97" cy="256.19" r="1.65" fill="#111" stroke="none" stroke-width="0"/>
<circle cx="395.7" cy="255.55" r="1.63" fill="#111" stroke="none" stroke-width="0"/>
<circle cx="397.04" cy="255.51" r="1.77" fill="#111" stroke="none" stroke-width="0"/>
<circle cx="398.54" cy="255.2" r="1.68" fill="#111" stroke="none" stroke-width="0"/>
<circle cx="400.16" cy="255.5" r="1.61" fill="#111" stroke="none" stroke-width="0"/>
<circle cx="402.22" cy="255.62" r="1.67" fill="#111" stroke="none" stroke-width="0"/>
<circle cx="403.43" cy="255.09" r="1.78" fill="#111" stroke="none" stroke-width="0"/>
<circle cx="404.94" cy="255.46" r="2.1" fill="#111" stroke="none" stroke-width="0"/>
<circle cx="406.73" cy="254.8" r="1.64" fill="#111" stroke="none" stroke-width="0"/>
<circle cx="408.09" cy="254.42" r="1.73" fill="#111" stroke="none" stroke-width="0"/>
<circle cx="410.12" cy="254" r="1.61" fill="#111" stroke="none" stroke-width="0"/>
<circle cx="411.78" cy="254.23" r="1.67" fill="#111" stroke="none" stroke-width="0"/>
<circle cx="413.12" cy="253.44" r="1.86" fill="#111" stroke="none" stroke-width="0"/>
<circle cx="414.97" cy="254.27" r="1.95" fill="#111" stroke="none" stroke-width="0"/>
<circle cx="416.14" cy="253.53" r="1.68" fill="#111" stroke="none" stroke-width="0"/>
<circle cx="418.04" cy="253.62" r="1.99" fill="#111" stroke="none" stroke-width="0"/>
<circle cx="419.37" cy="253.15" r="2.01" fill="#111" stroke="none" stroke-width="0"/>
<circle cx="421.36" cy="253.81" r="2" fill="#111" stroke="none" stroke-width="0"/>
<circle cx="422.86" cy="253.58" r="1.71" fill="#111" stroke="none" stroke-width="0"/>
<circle cx="424.27" cy="253.01" r="1.61" fill="#111" stroke="none" stroke-width="0"/>
<circle cx="425.58" cy="252.8" r="1.73" fill="#111" stroke="none" stroke-width="0"/>
<circle cx="427.57" cy="253.5" r="1.82" fill="#111" stroke="none" stroke-width="0"/>
<circle cx="429.31" cy="253.43" r="2.08" fill="#111" stroke="none" stroke-width="0"/>
<circle cx="430.57" cy="252.41" r="1.71" fill="#111" stroke="none" stroke-width="0"/>
<circle cx="432.06" cy="252.29" r="1.91" fill="#111" stroke="none" stroke-width="0"/>
<circle cx="434.08" cy="252.97" r="1.84" fill="#111" stroke="none" stroke-width="0"/>
<circle cx="435.53" cy="252.85" r="1.64" fill="#111" stroke="none" stroke-width="0"/>
<circle cx="437.14" cy="252.93" r="1.99" fill="#111" stroke="none" stroke-width="0"/>
<circle cx="438.79" cy="252.36" r="1.69" fill="#111" stroke="none" stroke-width="0"/>
<circle cx="440.41" cy="252.16" r="2" fill="#111" stroke="none" stroke-width="0"/>
<circle cx="442.12" cy="252.21" r="1.8" fill="#111" stroke="none" stroke-width="0"/>
<circle cx="443.71" cy="252.58" r="1.69" fill="#111" stroke="none" stroke-width="0"/>
<circle cx="444.81" cy="251.85" r="2.05" fill="#111" stroke="none" stroke-width="0"/>
<circle cx="446.82" cy="251.8" r="2.01" fill="#111" stroke="none" stroke-width="0"/>
<circle cx="448.52" cy="252.36" r="1.78" fill="#111" stroke="none" stroke-width="0"/>
<circle cx="449.86" cy="251.65" r="1.61" fill="#111" stroke="none" stroke-width="0"/>
<circle cx="451.72" cy="252.2" r="1.86" fill="#111" stroke="none" stroke-width="0"/>
<circle cx="453.29" cy="251.85" r="2.04" fill="#111" stroke="none" stroke-width="0"/>
<circle cx="454.82" cy="251.5" r="1.73" fill="#111" stroke="none" stroke-width="0"/>
<circle cx="456.1" cy="251.44" r="1.89" fill="#111" stroke="none" stroke-width="0"/>
<circle cx="457.68" cy="251.55" r="1.67" fill="#111" stroke="none" stroke-width="0"/>
<circle cx="459.66" cy="251.36" r="1.83" fill="#111" stroke="none" stroke-width="0"/>
<circle cx="461.06" cy="251.9" r="1.81" fill="#111" stroke="none" stroke-width="0"/>
<circle cx="462.86" cy="251.29" r="1.87" fill="#111" stroke="none" stroke-width="0"/>
<circle cx="464.22" cy="250.57" r="1.82" fill="#111" stroke="none" stroke-width="0"/>
<circle cx="465.61" cy="250.41" r="2" fill="#111" stroke="none" stroke-width="0"/>
<circle cx="467.19" cy="250.82" r="1.96" fill="#111" stroke="none" stroke-width="0"/>
<circle cx="469.01" cy="250.49" r="1.86" fill="#111" stroke="none" stroke-width="0"/>
</svg>
</body></html>
